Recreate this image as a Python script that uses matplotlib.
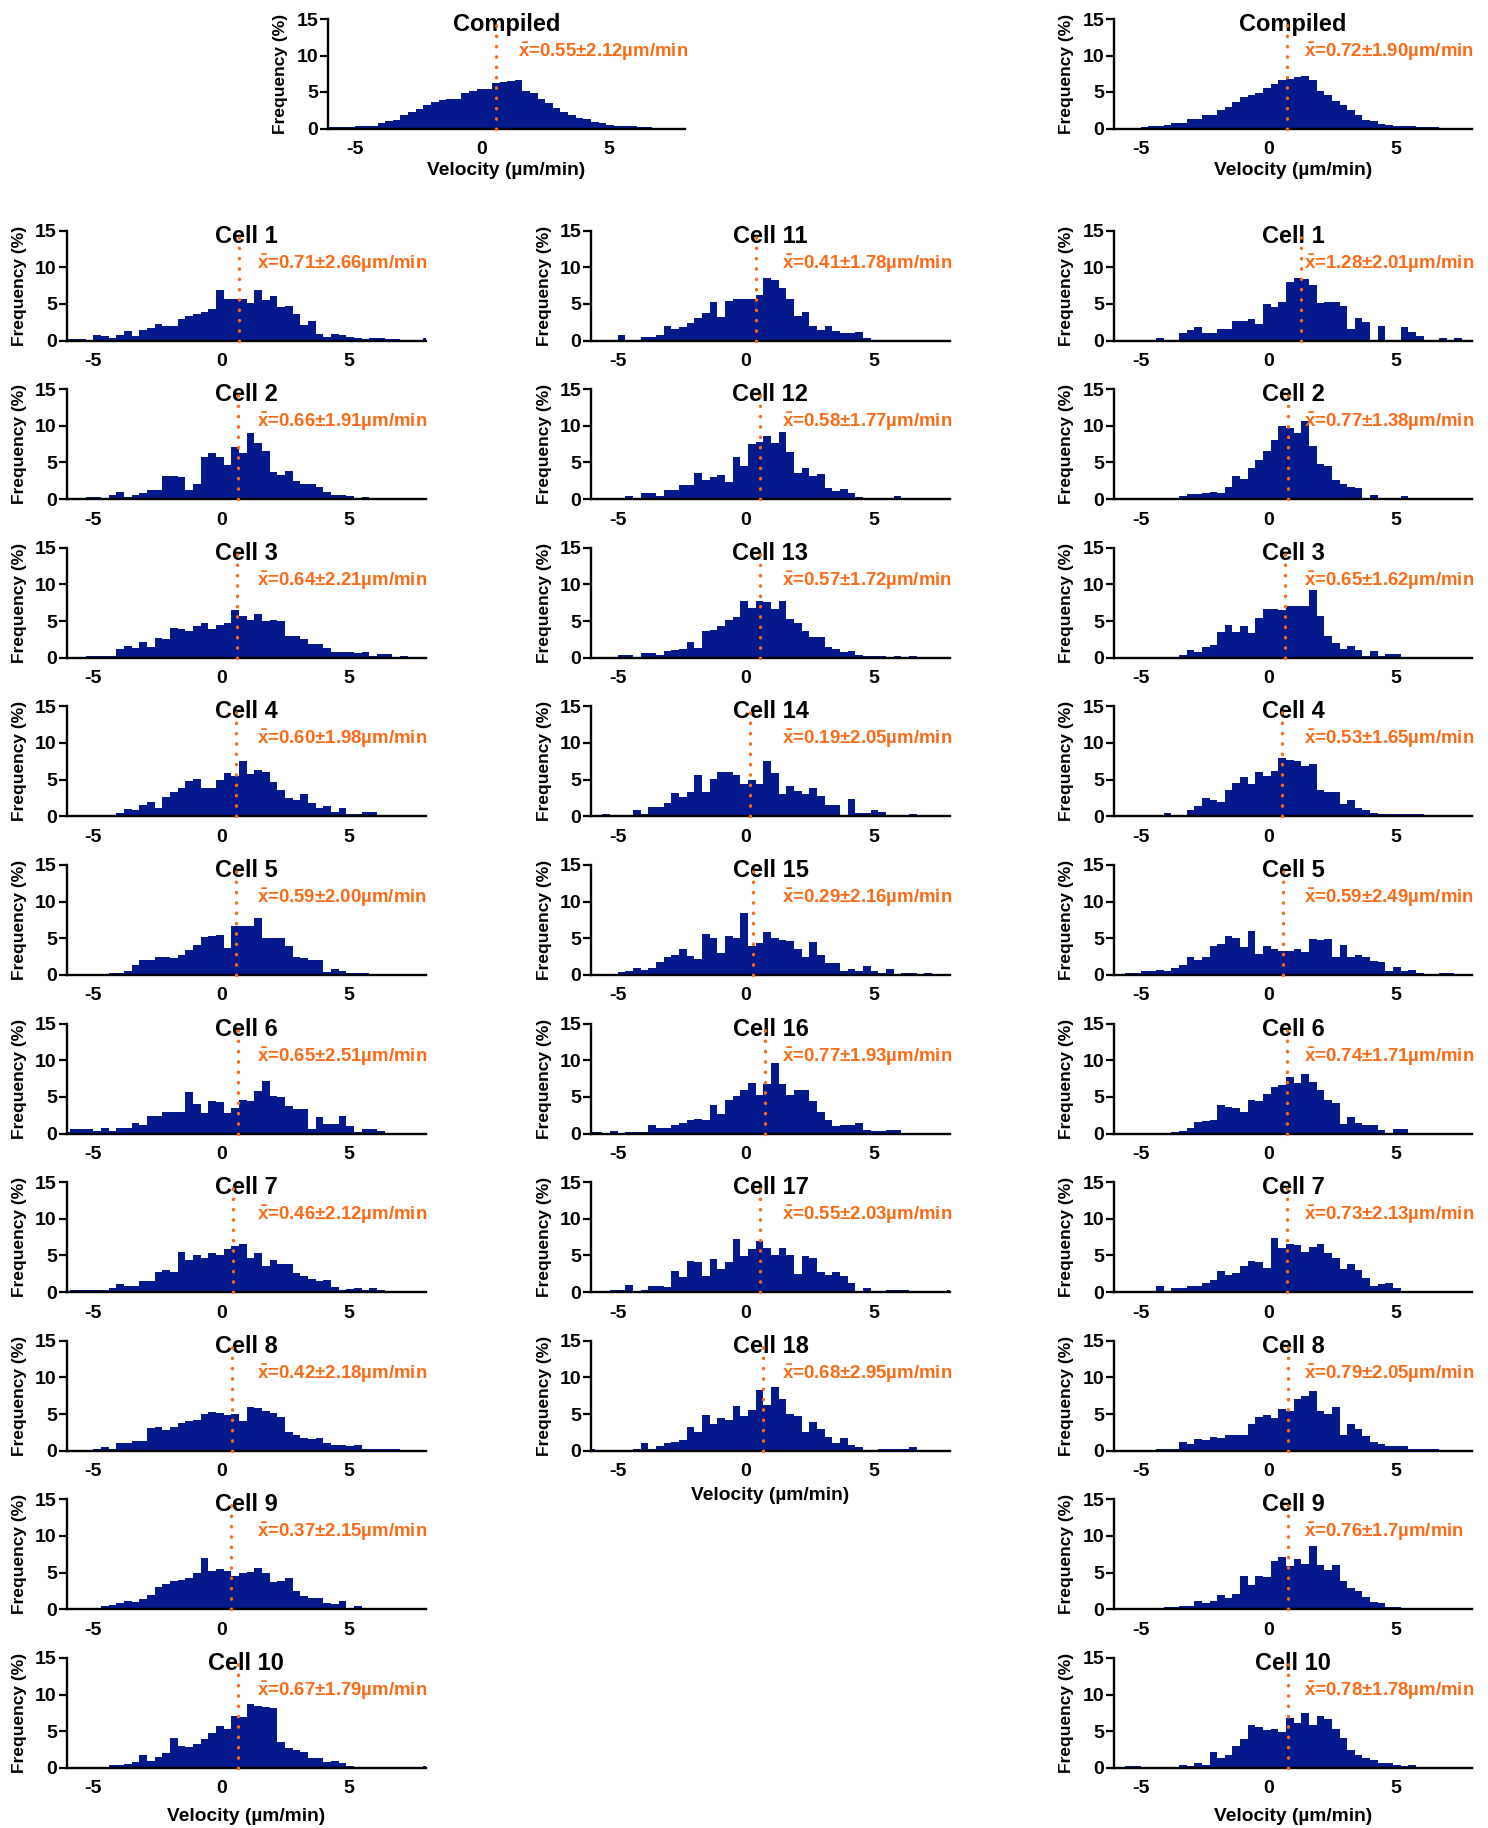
import numpy as np
import matplotlib
matplotlib.use("Agg")
import matplotlib.pyplot as plt

plt.rcParams['font.family'] = ['Liberation Sans', 'DejaVu Sans']
plt.rcParams['font.weight'] = 'bold'
plt.rcParams['axes.unicode_minus'] = False
plt.rcParams['mathtext.fontset'] = 'custom'
plt.rcParams['mathtext.rm'] = 'Liberation Sans:bold'
plt.rcParams['mathtext.bf'] = 'Liberation Sans:bold'
plt.rcParams['mathtext.it'] = 'Liberation Sans:bold'

NAVY = '#03198C'
ORANGE = '#FB6A16'

# histogram bins: width 0.3 starting at -6.2 (48 bins)
BIN_START = -6.2
BIN_WIDTH = 0.3
N_BINS = 48

# ---------------- data (frequency %, per bin) ----------------
compiled_left = [0.2,0.2,0.2,0.2,0.4,0.4,0.4,0.7,1.0,1.1,
                 1.8,2.2,2.7,3.2,3.6,3.9,4.0,4.1,4.8,5.2,
                 5.4,5.4,6.3,6.4,6.5,6.6,5.2,4.8,4.1,3.5,
                 2.8,2.3,1.8,1.5,1.3,0.9,0.8,0.5,0.4,0.3,
                 0.3,0.2,0.2,0.1,0.1,0.1,0.1,0.1]
compiled_right = [0.1,0.1,0.1,0.1,0.2,0.3,0.4,0.5,0.8,0.8,
                  1.3,1.3,1.8,1.9,2.6,2.9,3.6,4.3,4.6,4.8,
                  5.6,6.1,6.7,6.8,7.0,7.2,6.7,5.2,4.6,3.7,
                  3.2,2.5,1.9,1.2,1.0,0.6,0.5,0.4,0.4,0.3,
                  0.2,0.2,0.2,0.1,0.1,0.1,0.1,0.1]

col1_cells = [
    [0.2,0.2,0.2,0.1,0.8,0.6,0.3,0.8,1.3,0.6,1.4,1.7,2.2,2.0,2.0,2.9,3.3,3.6,3.9,4.3,
     6.9,5.7,5.6,5.6,5.1,6.9,5.5,6.1,4.6,4.7,3.6,2.1,2.6,0.9,0.5,0.9,0.7,0.5,0.4,0.2,
     0.4,0.3,0.2,0.2,0.1,0.1,0.1,0.3],
    [0.1,0.1,0.1,0.3,0.3,0.1,0.5,1.0,0.3,0.5,0.8,1.3,1.3,3.2,3.1,3.0,1.3,2.0,5.8,6.3,
     5.7,4.7,7.1,6.3,9.0,7.7,6.5,3.7,3.3,3.8,2.5,2.1,2.1,1.6,1.0,0.5,0.5,0.4,0.1,0.3,
     0.1,0.1,0.2,0.1,0.1,0.1,0.1,0.1],
    [0.1,0.1,0.1,0.2,0.2,0.3,0.3,1.2,1.6,1.3,2.2,1.5,2.7,2.6,4.0,3.9,3.6,4.3,4.8,3.9,
     4.5,4.8,6.5,5.7,5.2,6.0,5.0,5.1,5.0,3.0,3.0,2.6,1.9,1.9,1.3,0.8,0.8,0.8,0.6,0.8,
     0.3,0.5,0.5,0.1,0.2,0.1,0.1,0.1],
    [0.1,0.1,0.1,0.1,0.2,0.2,0.2,0.4,1.0,0.9,1.5,2.0,1.2,2.7,3.3,3.9,4.8,5.1,3.9,3.8,
     5.0,5.9,5.5,7.6,5.8,6.3,6.0,4.7,3.6,2.5,2.2,3.0,1.8,1.2,1.4,0.6,1.1,0.3,0.3,0.6,
     0.6,0.1,0.1,0.1,0.1,0.1,0.1,0.1],
    [0.1,0.1,0.1,0.1,0.15,0.15,0.3,0.3,0.6,1.4,2.0,2.0,2.5,2.4,2.3,2.7,3.4,4.1,5.2,5.3,
     5.4,3.7,6.7,6.7,6.7,7.8,5.0,5.1,5.0,4.0,2.4,2.3,2.0,2.1,0.4,0.8,0.5,0.3,0.3,0.3,
     0.1,0.1,0.1,0.1,0.1,0.1,0.1,0.1],
    [0.2,0.6,0.6,0.6,0.4,0.8,0.3,0.8,0.8,1.4,1.2,2.4,2.4,3.0,2.9,2.9,5.7,4.0,2.8,4.5,
     4.3,2.8,3.5,4.6,4.4,5.8,7.1,5.1,5.0,3.8,3.4,3.3,0.6,2.2,1.3,1.3,2.4,1.0,0.2,0.6,
     0.6,0.3,0.1,0.1,0.1,0.1,0.1,0.1],
    [0.1,0.3,0.3,0.3,0.3,0.3,0.5,1.1,0.9,0.9,1.5,1.5,2.7,3.0,2.8,5.5,4.4,5.0,4.7,5.3,
     5.0,5.9,6.3,6.6,4.7,5.3,3.6,4.4,3.9,3.9,2.6,2.2,1.8,1.5,1.7,0.7,0.3,0.4,0.6,0.3,
     0.6,0.3,0.1,0.2,0.1,0.1,0.1,0.1],
    [0.1,0.1,0.1,0.1,0.2,0.5,0.3,1.0,1.0,1.3,1.3,3.1,3.2,2.8,3.3,3.8,4.0,4.2,5.0,5.3,
     5.1,4.9,5.0,4.0,5.9,5.8,5.4,5.2,4.6,2.6,2.1,1.7,1.6,1.7,1.1,0.8,0.8,0.6,0.8,0.3,
     0.3,0.2,0.2,0.3,0.1,0.1,0.1,0.1],
    [0.1,0.1,0.1,0.1,0.1,0.4,0.6,0.8,1.2,1.0,1.4,2.0,3.0,3.5,3.9,4.0,4.3,5.0,7.0,5.2,
     5.5,5.2,4.5,5.0,5.1,5.7,5.0,3.7,3.8,4.3,2.5,1.8,1.5,1.6,0.9,0.7,1.1,0.2,0.5,0.1,
     0.1,0.1,0.1,0.1,0.1,0.1,0.1,0.1],
    [0.1,0.1,0.1,0.1,0.1,0.1,0.4,0.4,0.5,0.8,1.8,0.9,1.5,2.0,4.1,3.0,2.8,3.2,3.9,4.8,
     5.7,5.3,7.1,6.9,8.7,8.4,8.3,8.2,3.5,2.7,2.5,2.1,1.3,1.3,0.8,0.9,0.6,0.2,0.1,0.1,
     0.1,0.1,0.1,0.1,0.1,0.1,0.1,0.2],
]
col2_cells = [
    [0,0,0,0,0.7,0.05,0.05,0.5,0.5,0.7,2.0,1.6,1.8,2.4,3.1,3.7,5.3,3.2,5.4,5.6,
     5.6,5.6,6.2,8.5,8.3,7.2,5.6,3.3,3.9,2.0,1.5,2.0,1.3,1.0,1.0,1.1,0.3,0.05,0,0,
     0,0,0,0,0,0,0,0],
    [0.05,0.05,0.05,0.2,0.05,0.4,0.2,0.8,0.8,0.4,1.3,1.3,1.9,1.9,3.6,2.6,3.0,3.3,2.3,5.7,
     4.5,7.5,7.8,8.6,7.7,9.2,6.4,3.5,4.2,3.1,3.4,1.5,1.1,1.4,0.8,0.3,0.2,0.1,0.1,0.1,
     0.4,0.05,0.05,0.05,0.05,0.05,0.05,0.05],
    [0.05,0.05,0.05,0.05,0.4,0.4,0.1,0.6,0.6,0.4,0.9,1.1,1.2,2.2,1.3,3.6,3.8,4.3,5.1,5.6,
     7.7,6.8,7.8,7.6,6.7,7.8,5.3,4.7,3.7,2.8,2.8,1.5,1.2,0.8,0.9,0.4,0.2,0.3,0.3,0.1,
     0.2,0.1,0.2,0.05,0.05,0.05,0.05,0.05],
    [0.05,0.05,0.3,0.05,0.05,0.05,0.8,0.3,1.3,1.3,1.8,3.2,2.7,3.3,5.6,3.3,5.1,6.1,6.1,5.6,
     4.4,4.9,4.4,7.5,5.9,3.1,4.1,3.4,3.0,3.8,2.8,1.6,1.6,0.05,2.4,0.4,0.4,0.8,0.6,0.05,
     0.05,0.05,0.3,0.05,0.05,0.05,0.05,0.05],
    [0.05,0.05,0.05,0.05,0.4,0.6,1.0,0.7,0.9,1.7,2.5,2.7,3.6,2.6,2.2,5.6,5.0,3.0,5.3,5.0,
     8.4,3.9,4.3,5.9,5.0,4.8,4.6,3.6,2.5,4.5,2.7,1.6,1.6,0.5,0.8,0.6,1.2,0.5,0.2,0.8,
     0.1,0.3,0.3,0.1,0.3,0.05,0.05,0.05],
    [0.2,0.2,0.1,0.4,0.05,0.2,0.2,0.2,1.1,0.8,0.8,1.1,1.4,1.8,2.0,1.8,3.9,2.7,4.6,5.1,
     6.0,6.9,5.3,6.7,9.6,6.8,5.3,5.9,5.9,4.4,2.9,1.8,1.0,1.1,1.1,1.4,0.5,0.3,0.3,0.5,
     0.5,0.1,0.1,0.1,0.1,0.1,0.1,0.1],
    [0.1,0.1,0.1,0.3,0.3,1.0,0.1,0.3,0.8,0.8,0.7,2.9,2.0,4.3,4.1,2.2,4.5,3.1,4.1,7.2,
     4.9,5.9,7.0,6.0,5.0,6.0,5.0,2.5,4.9,4.6,2.7,2.4,2.8,2.2,1.3,0.2,0.6,0.1,0.1,0.3,
     0.3,0.3,0.1,0.1,0.1,0.1,0.1,0.3],
    [0.3,0.1,0.1,0.1,0.1,0.1,0.2,1.0,0.3,0.6,1.0,1.2,1.5,3.2,2.5,4.9,3.6,4.4,4.2,6.1,
     4.7,5.6,8.3,6.3,8.7,7.1,5.0,4.7,2.6,3.9,3.0,1.9,1.0,1.7,0.8,0.5,0.1,0.1,0.2,0.2,
     0.2,0.2,0.5,0.05,0.05,0.05,0.05,0.05],
]
col3_cells = [
    [0,0,0,0,0,0,0.3,0.05,0.05,1.0,1.4,1.9,1.0,1.0,1.6,1.6,2.6,2.6,2.9,2.2,
     5.0,4.6,5.3,8.0,8.5,8.4,7.6,5.1,5.3,5.3,4.7,1.6,3.1,2.5,0.05,2.0,0.05,0.05,1.9,1.2,
     0.6,0.05,0.05,0.3,0.05,0.3,0.05,0],
    [0.1,0.1,0.1,0.1,0.1,0.1,0.1,0.1,0.1,0.4,0.7,0.7,0.8,1.0,0.8,1.7,3.2,2.7,4.2,5.3,
     6.6,8.0,10.0,9.7,9.0,10.7,7.3,4.8,4.5,2.6,2.0,1.7,1.5,0.2,0.5,0.1,0.1,0.1,0.4,0.05,
     0.05,0.05,0.05,0.05,0.05,0.05,0.05,0.05],
    [0.05,0.05,0.05,0.05,0.05,0.05,0.05,0.05,0.05,0.4,1.0,0.8,1.5,1.8,3.5,4.4,3.5,4.3,3.4,5.4,
     6.7,6.6,6.5,7.0,7.1,7.0,9.2,5.7,3.0,2.0,1.2,1.6,1.0,0.3,0.9,0.3,0.5,0.5,0.05,0.05,
     0.05,0.05,0.05,0.05,0.05,0.05,0.05,0.05],
    [0.05,0.05,0.05,0.05,0.1,0.1,0.1,0.5,0.2,0.2,0.9,1.4,2.5,2.2,1.9,3.6,4.5,5.3,4.4,6.0,
     5.5,6.2,8.0,7.7,7.6,6.8,7.2,3.6,3.3,3.3,1.7,2.2,1.1,0.8,0.4,0.3,0.3,0.3,0.3,0.3,
     0.3,0.05,0.05,0.05,0.05,0.05,0.05,0.05],
    [0.05,0.05,0.2,0.2,0.5,0.5,0.7,0.5,0.9,1.4,2.4,2.0,2.4,4.0,4.2,5.3,5.1,3.8,6.0,2.8,
     3.9,3.6,3.2,3.3,3.6,3.1,4.9,4.8,4.9,2.4,4.1,2.5,2.7,2.4,1.9,1.8,0.5,1.1,0.6,0.7,
     0.3,0.1,0.1,0.3,0.3,0.05,0.05,0.05],
    [0.05,0.05,0.05,0.05,0.1,0.1,0.05,0.05,0.2,0.4,0.7,1.6,1.7,1.8,3.9,3.6,3.5,2.9,4.6,4.5,
     5.4,6.3,6.6,7.7,6.9,8.1,7.0,5.9,4.6,4.2,1.3,2.3,1.4,1.2,1.1,0.5,0.1,0.6,0.6,0.05,
     0.05,0.05,0.05,0.05,0.05,0.05,0.05,0.05],
    [0.1,0.1,0.1,0.1,0.05,0.2,0.9,0.2,0.5,0.5,0.9,0.9,1.3,1.6,2.9,2.3,2.6,3.6,4.2,4.1,
     3.3,7.4,6.0,6.6,6.4,5.5,6.2,6.6,5.3,4.7,3.1,3.9,3.0,1.9,0.9,1.1,1.2,0.5,0.1,0.1,
     0.1,0.1,0.2,0.05,0.05,0.05,0.05,0.05],
    [0.05,0.05,0.05,0.05,0.05,0.05,0.2,0.2,0.2,1.2,0.9,1.6,1.5,1.9,1.8,2.2,2.1,2.2,3.6,4.6,
     4.9,4.4,5.7,5.4,7.0,7.5,8.2,5.4,5.0,6.0,2.2,3.7,3.0,2.0,1.2,0.9,0.6,0.6,0.7,0.3,
     0.3,0.2,0.2,0.05,0.05,0.05,0.05,0.05],
    [0.05,0.05,0.05,0.05,0.05,0.1,0.1,0.3,0.3,0.4,0.4,1.1,0.8,1.1,1.9,1.5,2.1,4.6,3.3,4.5,
     4.4,6.6,7.1,5.9,6.9,6.2,8.6,6.1,5.4,6.0,3.9,2.9,2.5,1.7,1.0,0.8,0.3,0.3,0.05,0.05,
     0.05,0.05,0.05,0.05,0.05,0.05,0.05,0.05],
    [0.05,0.05,0.2,0.2,0.1,0.1,0.1,0.1,0.1,0.4,0.2,0.6,0.4,2.2,1.3,1.8,3.0,4.0,5.9,5.6,
     5.2,5.3,4.9,6.8,6.1,7.5,5.8,7.1,6.7,5.3,4.1,2.5,1.8,1.3,1.1,0.6,0.6,0.4,0.2,0.4,
     0.05,0.05,0.05,0.05,0.05,0.05,0.05,0.05],
]

compiled_mean = [0.55, 0.72]
compiled_sd = ["2.12", "1.90"]
col1_mean = [0.71, 0.66, 0.64, 0.60, 0.59, 0.65, 0.46, 0.42, 0.37, 0.67]
col1_sd = ["2.66", "1.91", "2.21", "1.98", "2.00", "2.51", "2.12", "2.18", "2.15", "1.79"]
col2_mean = [0.41, 0.58, 0.57, 0.19, 0.29, 0.77, 0.55, 0.68]
col2_sd = ["1.78", "1.77", "1.72", "2.05", "2.16", "1.93", "2.03", "2.95"]
col3_mean = [1.28, 0.77, 0.65, 0.53, 0.59, 0.74, 0.73, 0.79, 0.76, 0.78]
col3_sd = ["2.01", "1.38", "1.62", "1.65", "2.49", "1.71", "2.13", "2.05", "1.7", "1.78"]
col1_titles = [f"Cell {i}" for i in range(1, 11)]
col2_titles = [f"Cell {i}" for i in range(11, 19)]
col3_titles = [f"Cell {i}" for i in range(1, 11)]

edges = BIN_START + BIN_WIDTH * np.arange(N_BINS + 1)

W, H = 1488, 1828
fig = plt.figure(figsize=(W / 100, H / 100), dpi=100)


def add_ax(l, t, r, b):
    return fig.add_axes([l / W, 1 - b / H, (r - l) / W, (b - t) / H])


def draw(ax, heights, mean, sd, title, xlabel_y=None):
    ax.stairs(heights, edges, fill=True, color=NAVY, baseline=0, lw=0)
    ax.set_xlim(-6.05, 8.0)
    ax.set_ylim(0, 15)
    ax.set_yticks([0, 5, 10, 15])
    ax.set_xticks([-5, 0, 5])
    for s in ('top', 'right'):
        ax.spines[s].set_visible(False)
    for s in ('left', 'bottom'):
        ax.spines[s].set_linewidth(1.7)
        ax.spines[s].set_color('black')
    ax.tick_params(axis='y', length=6, width=1.6, pad=1, labelsize=14)
    ax.tick_params(axis='x', length=0, pad=9, labelsize=14)
    w_px = ax.get_position().width * W
    ax.text(-47 / w_px, 0.5, 'Frequency (%)', transform=ax.transAxes, rotation=90,
            ha='center', va='center', fontsize=12.5, fontweight='bold')
    ax.plot([mean, mean], [0, 15], color=ORANGE, lw=2.4, ls=(0, (0.1, 3)),
            dash_capstyle='round', clip_on=False, zorder=6)
    ax.text(0.5, 0.89, title, transform=ax.transAxes, ha='center', va='baseline',
            fontsize=17, fontweight='bold', zorder=5)
    ax.text(1.42, 9.8, r"$\bar{\mathbf{x}}$" + f"={mean:.2f}\u00b1{sd}\u00b5m/min",
            color=ORANGE, fontsize=13.4, fontweight='bold', va='baseline', ha='left',
            clip_on=False)
    if xlabel_y is not None:
        ax.text(0.5, xlabel_y, 'Velocity (\u00b5m/min)', transform=ax.transAxes,
                ha='center', va='center', fontsize=13.8, fontweight='bold')


# compiled panels
ax = add_ax(328, 19, 685, 128.5)
draw(ax, compiled_left, compiled_mean[0], compiled_sd[0], 'Compiled', xlabel_y=-0.38)
ax = add_ax(1114, 19, 1472, 128.5)
draw(ax, compiled_right, compiled_mean[1], compiled_sd[1], 'Compiled', xlabel_y=-0.38)

cols = [(66.5, 425.6), (591, 950), (1114, 1472)]


def row_box(i, col):
    b = 340.5 + 158.6 * i
    l, r = cols[col]
    return l, b - 110, r, b


for i, h in enumerate(col1_cells):
    ax = add_ax(*row_box(i, 0))
    draw(ax, h, col1_mean[i], col1_sd[i], col1_titles[i],
         xlabel_y=(-0.44 if i == len(col1_cells) - 1 else None))
for i, h in enumerate(col2_cells):
    ax = add_ax(*row_box(i, 1))
    draw(ax, h, col2_mean[i], col2_sd[i], col2_titles[i],
         xlabel_y=(-0.41 if i == len(col2_cells) - 1 else None))
for i, h in enumerate(col3_cells):
    ax = add_ax(*row_box(i, 2))
    draw(ax, h, col3_mean[i], col3_sd[i], col3_titles[i],
         xlabel_y=(-0.44 if i == len(col3_cells) - 1 else None))

fig.savefig('out.png', dpi=100)
